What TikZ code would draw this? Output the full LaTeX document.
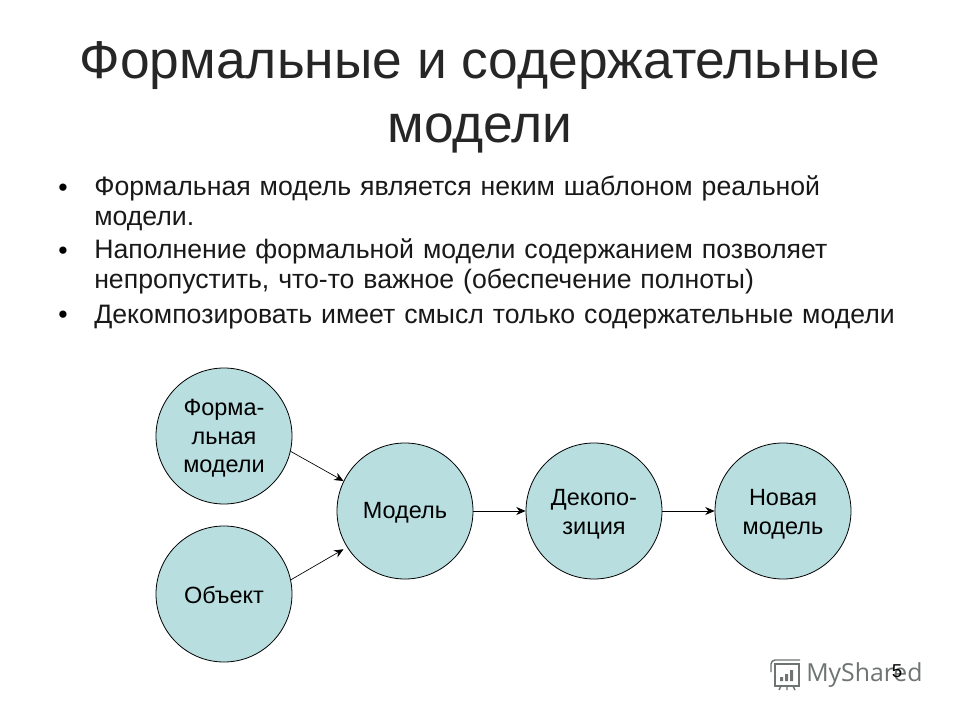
\documentclass[tikz,border=0pt]{standalone}
\usepackage{fontspec}
\setmainfont{Liberation Sans}
\newfontfamily\markfont{Open Sans}
\usetikzlibrary{positioning,arrows.meta}
\definecolor{bubblefill}{HTML}{B8DEE0}
\definecolor{markgray}{HTML}{6E7472}
\newcommand{\lift}[1]{\rule{0pt}{#1}}
\tikzstyle{bubble}=[circle, draw=black, line width=0.6pt, fill=bubblefill, minimum size=102pt, inner sep=0, align=center, font=\fontsize{17.6}{21.4}\selectfont, text=black]
\tikzstyle{sarrow}=[-{Stealth[length=7pt,width=6pt]}, line width=0.5pt]
\tikzstyle{bulletitem}=[anchor=north west, inner sep=0, align=left, text width=604pt, font=\fontsize{20}{22.5}\selectfont, text=black!90]
\tikzstyle{dotmark}=[inner sep=0, font=\fontsize{20}{22.5}\selectfont]
\tikzstyle{markline}=[draw=markgray, line width=1.1pt]
\begin{document}
\begin{tikzpicture}[x=0.75pt, y=-0.75pt]
    \useasboundingbox (0,0) rectangle (960,720);
    \fill[white] (0,0) rectangle (960,720);
    \node[inner sep=0, align=center, font=\fontsize{40}{48}\selectfont, text=black!85] (title) at (480,97) {Формальные и содержательные\\модели};
    % bullets
    \node[bulletitem] (itemA) at (94,175) {Формальная модель является неким шаблоном реальной модели.};
    \node[bulletitem] (itemB) at (94,238) {Наполнение формальной модели содержанием позволяет непропустить, что-то важное (обеспечение полноты)};
    \node[bulletitem] (itemC) at (94,305) {Декомпозировать имеет смысл только содержательные модели};
    \node[dotmark] (dotA) at (63,190) {•};
    \node[dotmark] (dotB) at (63,253) {•};
    \node[dotmark] (dotC) at (63,317) {•};
    % circles
    \node[bubble] (form) at (224,436) {\lift{16pt}Форма-\\льная\\модели};
    \node[bubble] (obj) at (224,594) {\lift{15pt}Объект};
    \node[bubble] (model) at (405,511) {\lift{15pt}Модель};
    \node[bubble] (decomp) at (594,511) {\lift{17pt}Декопо-\\зиция};
    \node[bubble] (newm) at (783,511) {\lift{17pt}Новая\\модель};
    \draw[sarrow] (form.-13) to (model.154);
    \draw[sarrow, shorten >=3pt] (obj.12) to (model.212);
    \draw[sarrow] (model) to (decomp);
    \draw[sarrow] (decomp) to (newm);
    % watermark
    \draw[markline] (775,664) rectangle (799,686);
    \draw[markline] (771,672) -- (771,664) to[bend left=40] (775,660) -- (800,660);
    \fill[markgray] (780,677) rectangle (783,681) (785,674) rectangle (788,681) (790,670) rectangle (793,681);
    \draw[markline] (781,686) -- (779,690) (787,686) -- (787,690) (793,686) -- (795,690);
    \node[inner sep=0, anchor=west, font=\markfont\fontsize{18.6}{22}\selectfont, text=markgray] (brand) at (806,675) {MyShared};
    \node[inner sep=0, font=\fontsize{14}{16}\selectfont] (pagenum) at (897,671) {5};
\end{tikzpicture}
\end{document}
